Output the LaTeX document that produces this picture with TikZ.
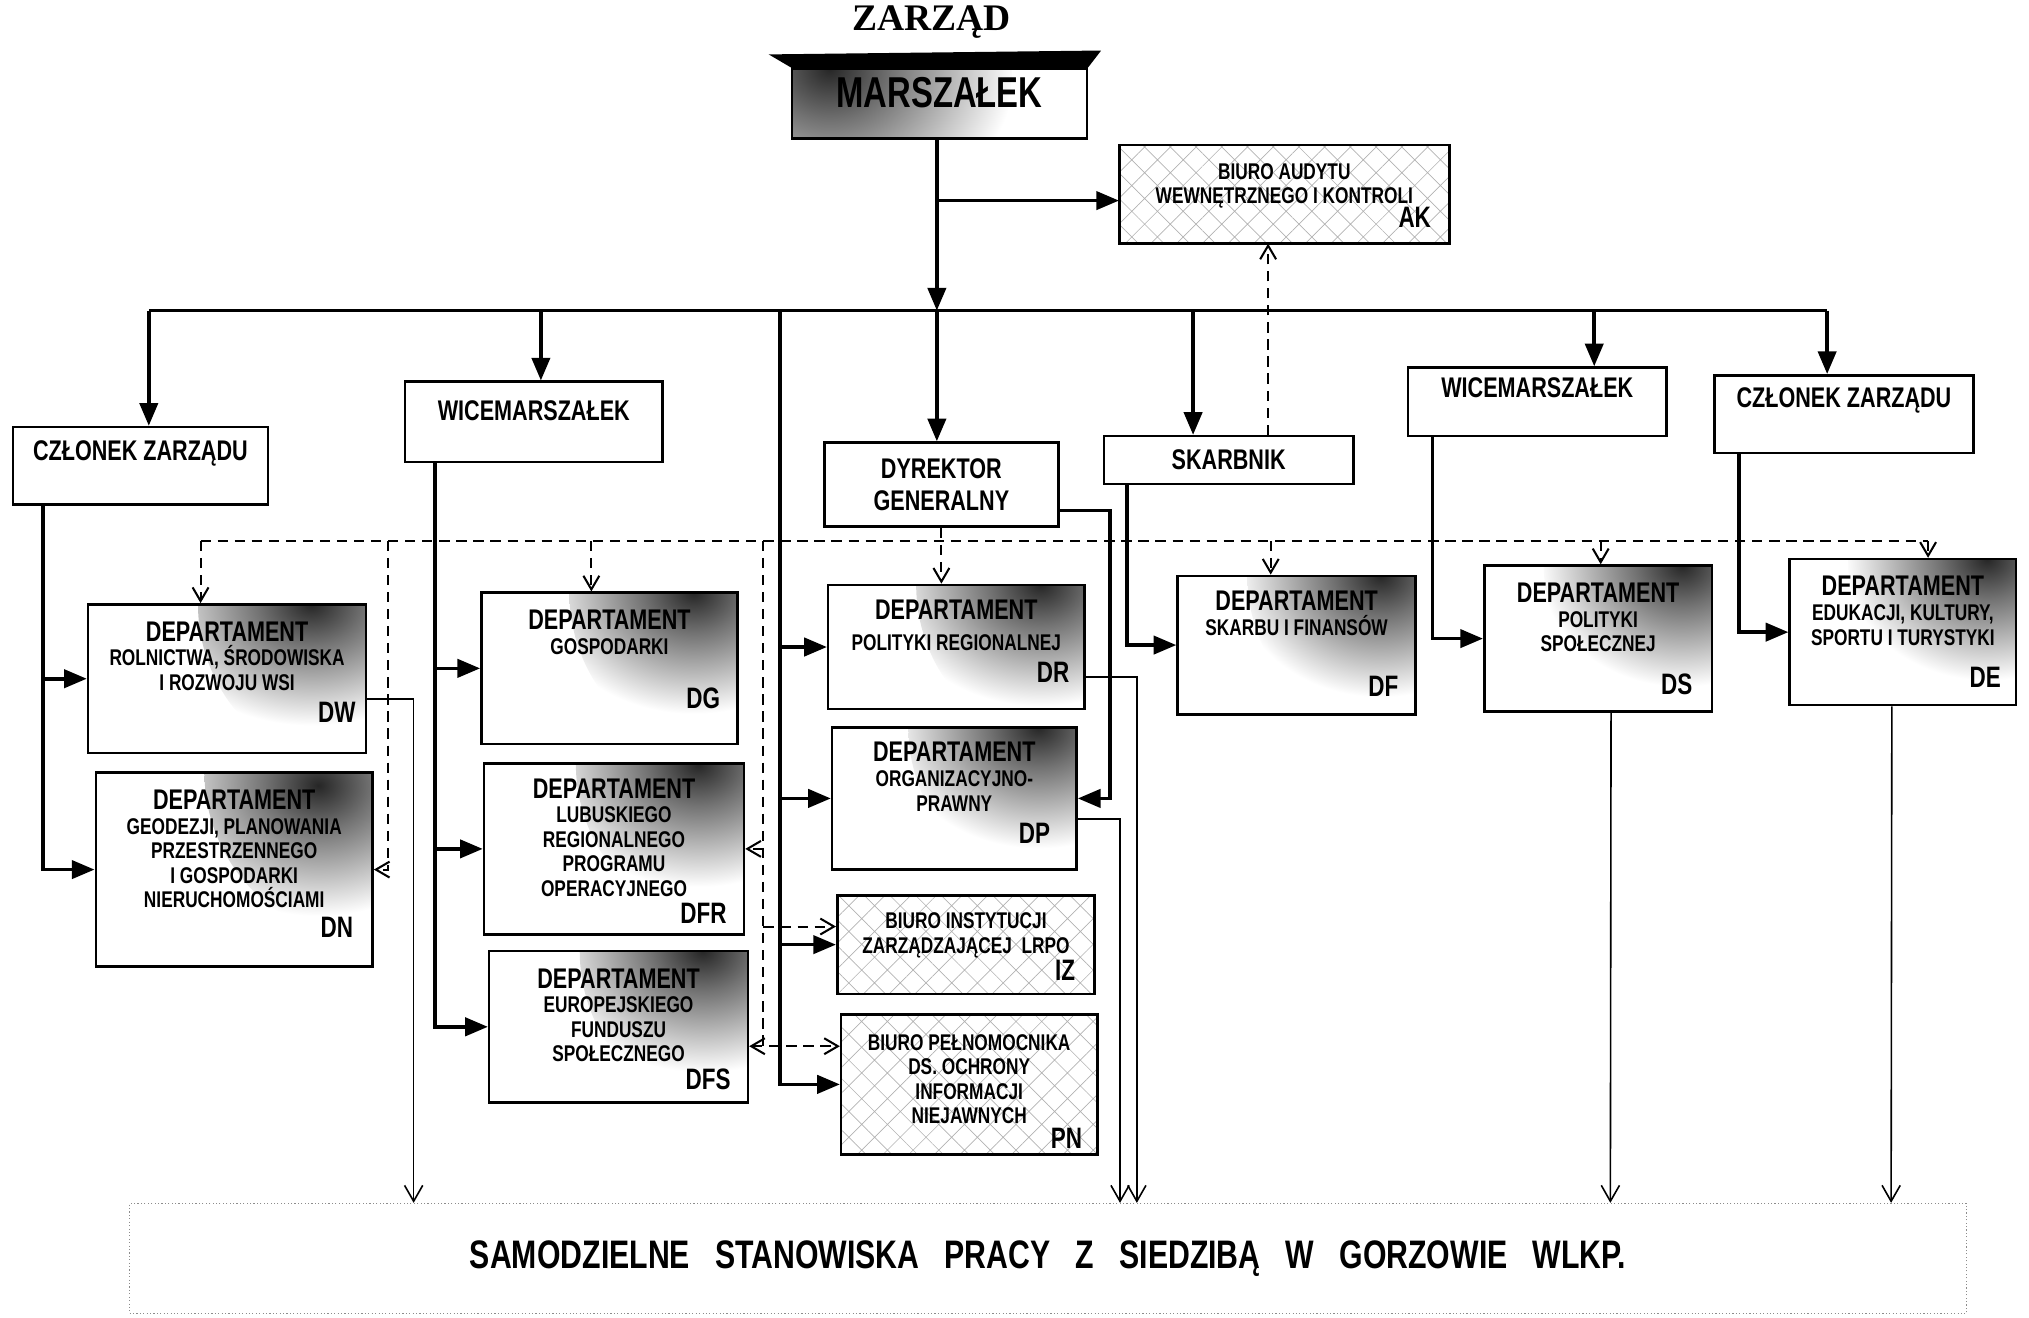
\documentclass[tikz,border=0pt]{standalone}
\usepackage{fontspec}
\setmainfont{Liberation Sans}
\newfontfamily\orgfont[FakeStretch=0.76]{Liberation Sans}
\newfontfamily\titlefont{Liberation Serif}
\usepackage{tikz}
\usetikzlibrary{positioning}
\usetikzlibrary{arrows.meta}
\usetikzlibrary{patterns.meta}
\newcommand\depthead{{\fontsize{12.5}{10.8}\selectfont DEPARTAMENT}}
\pgfdeclareradialshading{cornerglow}{\pgfpoint{0bp}{0bp}}{color(0bp)=(black!85); color(6bp)=(black!55); color(18bp)=(white); color(50bp)=(white)}
\tikzset{
    org chart/.style={
            x=0.02cm, y=-0.02cm,
            orgbox/.style={draw, line width=1.1pt, inner sep=0pt},
            chiefbox/.style={orgbox, path picture={\shade[shading=cornerglow] (path picture bounding box.north west) circle (3.4cm);}},
            deptbox/.style={orgbox, path picture={\shade[shading=cornerglow] (path picture bounding box.north east) circle (2.6cm);}},
            officebox/.style={orgbox, pattern={Hatch[angle=45,distance=8pt,line width=0.3pt]}, pattern color=black!30},
            basebox/.style={draw=black!45, densely dotted, line width=0.5pt, inner sep=0pt},
            titletext/.style={font=\titlefont\bfseries\fontsize{16.5}{18}\selectfont, inner sep=0pt},
            chieftext/.style={font=\orgfont\bfseries\fontsize{19}{21}\selectfont, inner sep=0pt},
            headtext/.style={font=\orgfont\bfseries\fontsize{12.5}{14}\selectfont, inner sep=0pt, align=center},
            depttext/.style={font=\orgfont\bfseries\fontsize{10}{10.8}\selectfont, inner sep=0pt, align=center},
            codetext/.style={font=\orgfont\bfseries\fontsize{13}{14}\selectfont, inner sep=0pt},
            basetext/.style={font=\orgfont\bfseries\fontsize{17.5}{20}\selectfont},
            connector/.style={line width=1.6pt},
            arrow/.style={connector, -{Triangle[length=10pt,width=8pt]}},
            thin arrow/.style={line width=0.7pt, -{Straight Barb[length=7pt,width=8pt]}},
            dashed link/.style={line width=0.9pt, dash pattern=on 4.5pt off 3pt},
            dashed arrow/.style={dashed link, -{Straight Barb[length=6pt,width=7pt]}},
            dashed both/.style={dashed link, {Straight Barb[length=6pt,width=7pt]}-{Straight Barb[length=6pt,width=7pt]}}
        }
    }

\begin{document}
\begin{tikzpicture}[org chart]
    \useasboundingbox (0,0) rectangle (1568,1018);

    \node [titletext] (title) at (720,17) {ZARZĄD};
    \node [chiefbox, minimum width=4.56cm, minimum height=1.08cm] (MAR) at (726,80) {};
    \fill (MAR.north west) -- ([xshift=-0.34cm, yshift=0.2cm]MAR.north west) -- ([xshift=0.2cm, yshift=0.26cm]MAR.north east) -- (MAR.north east) -- cycle;
    \node [chieftext, below=4pt of MAR.north] {MARSZAŁEK};

    \node [officebox, minimum width=5.1cm, minimum height=1.52cm] (AK) at (992.5,150) {};
    \node [depttext, below=8pt of AK.north] {BIURO AUDYTU\\WEWNĘTRZNEGO I KONTROLI};
    \node [codetext, above left=7pt and 8pt of AK.south east] {AK};

    \node [orgbox, minimum width=3.94cm, minimum height=1.2cm] (CZ1) at (108.5,360) {};
    \node [headtext, below=6.5pt of CZ1.north] {CZŁONEK ZARZĄDU};
    \node [orgbox, minimum width=3.98cm, minimum height=1.24cm] (WM1) at (412.5,326) {};
    \node [headtext, below=8.5pt of WM1.north] {WICEMARSZAŁEK};
    \node [orgbox, headtext, minimum width=3.62cm, minimum height=1.3cm] (DYR) at (727.5,374.5) {DYREKTOR\\GENERALNY};
    \node [orgbox, headtext, minimum width=3.86cm, minimum height=0.74cm] (SKA) at (949.5,355.5) {SKARBNIK};
    \node [orgbox, minimum width=4cm, minimum height=1.06cm] (WM2) at (1188,310.5) {};
    \node [headtext, below=5pt of WM2.north] {WICEMARSZAŁEK};
    \node [orgbox, minimum width=4cm, minimum height=1.2cm] (CZ2) at (1425,320) {};
    \node [headtext, below=6pt of CZ2.north] {CZŁONEK ZARZĄDU};

    \node [deptbox, minimum width=4.3cm, minimum height=2.3cm] (DW) at (175.5,524.5) {};
    \node [depttext, below=8pt of DW.north] {\depthead\\ROLNICTWA, ŚRODOWISKA\\I ROZWOJU WSI};
    \node [codetext, above left=14pt and 5pt of DW.south east] {DW};
    \node [deptbox, minimum width=4.28cm, minimum height=3cm] (DN) at (181,672) {};
    \node [depttext, below=8pt of DN.north] {\depthead\\GEODEZJI, PLANOWANIA\\PRZESTRZENNEGO\\I GOSPODARKI\\NIERUCHOMOŚCIAMI};
    \node [codetext, above left=13pt and 9pt of DN.south east] {DN};

    \node [deptbox, minimum width=3.96cm, minimum height=2.34cm] (DG) at (471,516.5) {};
    \node [depttext, below=8pt of DG.north] {\depthead\\GOSPODARKI};
    \node [codetext, above left=16pt and 8pt of DG.south east] {DG};
    \node [deptbox, minimum width=4.02cm, minimum height=2.64cm] (DFR) at (474.5,656) {};
    \node [depttext, below=7pt of DFR.north] {\depthead\\LUBUSKIEGO\\REGIONALNEGO\\PROGRAMU\\OPERACYJNEGO};
    \node [codetext, above left=5pt and 8pt of DFR.south east] {DFR};
    \node [deptbox, minimum width=4cm, minimum height=2.34cm] (DFS) at (478,793.5) {};
    \node [depttext, below=8pt of DFS.north] {\depthead\\EUROPEJSKIEGO\\FUNDUSZU\\SPOŁECZNEGO};
    \node [codetext, above left=6pt and 8pt of DFS.south east] {DFS};

    \node [deptbox, minimum width=3.96cm, minimum height=1.92cm] (DR) at (739,500) {};
    \node [depttext, below=7pt of DR.north] {\depthead\\[3pt]POLITYKI REGIONALNEJ};
    \node [codetext, above left=12pt and 7pt of DR.south east] {DR};
    \node [deptbox, minimum width=3.78cm, minimum height=2.2cm] (DP) at (737.5,617) {};
    \node [depttext, below=7pt of DP.north] {\depthead\\ORGANIZACYJNO-\\PRAWNY};
    \node [codetext, above left=12pt and 12pt of DP.south east] {DP};
    \node [officebox, minimum width=3.98cm, minimum height=1.52cm] (IZ) at (746.5,730) {};
    \node [depttext, below=8pt of IZ.north] {BIURO INSTYTUCJI\\ZARZĄDZAJĄCEJ\ \ LRPO};
    \node [codetext, above left=6pt and 9pt of IZ.south east] {IZ};
    \node [officebox, minimum width=3.96cm, minimum height=2.16cm] (PN) at (749,838) {};
    \node [depttext, below=9pt of PN.north] {BIURO PEŁNOMOCNIKA\\DS. OCHRONY\\INFORMACJI\\NIEJAWNYCH};
    \node [codetext, above left=3pt and 7pt of PN.south east] {PN};

    \node [deptbox, minimum width=3.68cm, minimum height=2.14cm] (DF) at (1002,498.5) {};
    \node [depttext, below=7pt of DF.north] {\depthead\\SKARBU I FINANSÓW};
    \node [codetext, above left=8pt and 8pt of DF.south east] {DF};
    \node [deptbox, minimum width=3.52cm, minimum height=2.26cm] (DS) at (1235,493.5) {};
    \node [depttext, below=8pt of DS.north] {\depthead\\POLITYKI\\SPOŁECZNEJ};
    \node [codetext, above left=8pt and 9pt of DS.south east] {DS};
    \node [deptbox, minimum width=3.5cm, minimum height=2.26cm] (DE) at (1470.5,488.5) {};
    \node [depttext, below=8pt of DE.north] {\depthead\\EDUKACJI, KULTURY,\\SPORTU I TURYSTYKI};
    \node [codetext, above left=8pt and 7pt of DE.south east] {DE};

    \node [basebox, basetext, minimum width=28.4cm, minimum height=1.7cm] (SP) at (810,972.5) {SAMODZIELNE\ \ \ STANOWISKA\ \ \ PRACY\ \ \ Z\ \ \ SIEDZIBĄ\ \ \ W\ \ \ GORZOWIE\ \ \ WLKP.};

    \coordinate (busL) at (115,240);
    \coordinate (busR) at (1412,240);
    \coordinate (busM) at (724,240);
    \coordinate (busWM1) at (418,240);
    \coordinate (busMid) at (603,240);
    \coordinate (busSKA) at (922,240);
    \coordinate (busWM2) at (1232,240);
    \coordinate (akJ) at (724,155);

    \draw [connector] (busL) -- (busR);
    \draw [arrow] (busM |- MAR.south) -- (busM);
    \draw [arrow] (akJ) -- (akJ -| AK.west);
    \draw [arrow] (busL) -- (busL |- CZ1.north);
    \draw [arrow] (busWM1) -- (busWM1 |- WM1.north);
    \draw [arrow] (busM) -- (busM |- DYR.north);
    \draw [arrow] (busSKA) -- (busSKA |- SKA.north);
    \draw [arrow] (busWM2) -- (busWM2 |- WM2.north);
    \draw [arrow] (busR) -- (busR |- CZ2.north);

    \coordinate (cz1Out) at ([xshift=0.48cm]CZ1.south west);
    \draw [arrow] (cz1Out) |- (DN.west);
    \draw [arrow] (cz1Out |- DW.west) -- (DW.west);
    \coordinate (wm1Out) at ([xshift=0.48cm]WM1.south west);
    \draw [arrow] (wm1Out) |- (DFS.west);
    \draw [arrow] (wm1Out |- DG.west) -- (DG.west);
    \draw [arrow] (wm1Out |- DFR.west) -- (DFR.west);
    \draw [arrow] (busMid) |- (PN.west);
    \draw [arrow] (busMid |- DR.west) -- (DR.west);
    \draw [arrow] (busMid |- DP.west) -- (DP.west);
    \draw [arrow] (busMid |- IZ.west) -- (IZ.west);
    \draw [arrow] ([yshift=-0.4cm]DYR.east) -- ++(0.78cm,0pt) |- (DP.east);
    \draw [arrow] ([xshift=0.38cm]SKA.south west) |- (DF.west);
    \draw [arrow] ([xshift=0.4cm]WM2.south west) |- (DS.west);
    \draw [arrow] ([xshift=0.4cm]CZ2.south west) |- (DE.west);

    \coordinate (skaUp) at ([xshift=0.61cm]SKA.north);
    \draw [dashed arrow] (skaUp) -- (skaUp |- AK.south);

    \coordinate (dashL) at (155,418);
    \coordinate (dashR) at (1490,418);
    \coordinate (dashDN) at (300,418);
    \coordinate (dashDG) at (457,418);
    \coordinate (dashMid) at (590,418);
    \coordinate (dashDF) at (982,418);
    \coordinate (dashDS) at (1237,418);
    \draw [dashed link] (dashL) -- (dashR);
    \draw [dashed arrow] (dashL) -- (dashL |- DW.north);
    \draw [dashed arrow] (dashDG) -- (dashDG |- DG.north);
    \draw [dashed arrow] (DYR.south) -- (DYR.south |- DR.north);
    \draw [dashed arrow] (dashDF) -- (dashDF |- DF.north);
    \draw [dashed arrow] (dashDS) -- (dashDS |- DS.north);
    \draw [dashed arrow] (dashR) -- (dashR |- DE.north);
    \draw [dashed arrow] (dashDN) |- (DN.east);

    \coordinate (dfsJ) at ([yshift=-0.3cm]DFS.east);
    \coordinate (izJ) at ([yshift=0.28cm]IZ.west);
    \draw [dashed link] (dashMid) -- (dashMid |- dfsJ);
    \draw [dashed arrow] (dashMid |- DFR.east) -- (DFR.east);
    \draw [dashed arrow] (dashMid |- izJ) -- (izJ);
    \draw [dashed both] (dfsJ) -- (dfsJ -| PN.west);

    \draw [thin arrow] ([yshift=-0.31cm]DW.east) -| ([xshift=4.4cm]SP.north west);
    \draw [thin arrow] ([yshift=-0.46cm]DR.east) -| ([xshift=15.58cm]SP.north west);
    \draw [thin arrow] ([yshift=-0.32cm]DP.east) -| ([xshift=15.32cm]SP.north west);
    \draw [thin arrow] ([xshift=0.2cm]DS.south) -- ([xshift=22.9cm]SP.north west);
    \draw [thin arrow] ([xshift=-0.17cm]DE.south) -- ([xshift=27.24cm]SP.north west);
\end{tikzpicture}
\end{document}
